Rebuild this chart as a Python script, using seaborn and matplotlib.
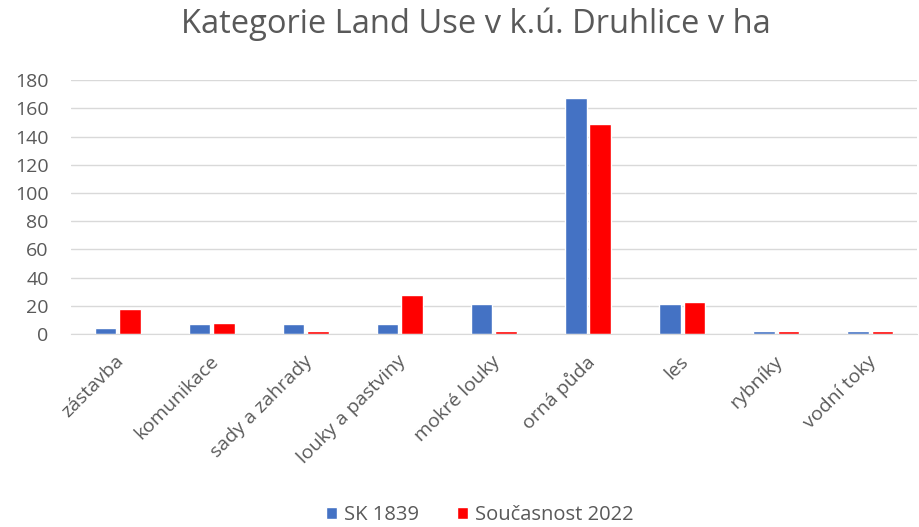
import pandas as pd
import matplotlib.pyplot as plt
import seaborn as sns
import matplotlib.transforms as mtransforms

# Data
categories = ["zástavba", "komunikace", "sady a zahrady", "louky a pastviny",
              "mokré louky", "orná půda", "les", "rybníky", "vodní toky"]
sk_1839 = [4, 7, 7, 7, 21, 167, 21, 2, 2]
soucasnost_2022 = [18, 8, 2, 28, 2, 149, 23, 2, 2]
series_names = ["SK 1839", "Současnost 2022"]

df = pd.DataFrame({
    "kategorie": categories * 2,
    "ha": sk_1839 + soucasnost_2022,
    "rada": [series_names[0]] * len(categories) + [series_names[1]] * len(categories),
})

sns.set_style("white")
plt.rcParams["font.family"] = ["Open Sans", "DejaVu Sans"]

fig, ax = plt.subplots(figsize=(9.19, 5.27), dpi=100)
fig.subplots_adjust(left=0.077, right=0.998, top=0.848, bottom=0.366)

sns.barplot(data=df, x="kategorie", y="ha", hue="rada",
            palette=["#4472C4", "#FF0000"], saturation=1,
            width=0.52, gap=0.12, ax=ax)

ax.set_ylim(0, 180)
ax.set_yticks(range(0, 181, 20))
ax.set_xlim(-0.5, len(categories) - 0.5)
ax.yaxis.grid(True, color="#D9D9D9", linewidth=1)
ax.set_axisbelow(True)
for side in ["top", "right", "left"]:
    ax.spines[side].set_visible(False)
ax.spines["bottom"].set_color("#D9D9D9")
ax.tick_params(axis="both", length=0, labelsize=14, labelcolor="#595959")
ax.tick_params(axis="y", pad=16)
ax.tick_params(axis="x", pad=13)
plt.setp(ax.get_xticklabels(), rotation=45, ha="right", va="top",
         rotation_mode="anchor")
offset = mtransforms.ScaledTranslation(-2 / 72, 0, fig.dpi_scale_trans)
for lbl in ax.get_xticklabels():
    lbl.set_transform(lbl.get_transform() + offset)
ax.set_xlabel("")
ax.set_ylabel("")

fig.text(0.518, 1 - 24 / 527, "Kategorie Land Use v k.ú. Druhlice v ha",
         fontsize=23.5, color="#595959", ha="center", va="center")

ax.legend(loc="center", bbox_to_anchor=(0.522, 0.022),
          bbox_transform=fig.transFigure, ncol=2,
          frameon=False, fontsize=14.5, handlelength=0.55, handleheight=0.55,
          labelcolor="#595959", columnspacing=1.9, handletextpad=0.35)

plt.savefig("out.png", dpi=100)
